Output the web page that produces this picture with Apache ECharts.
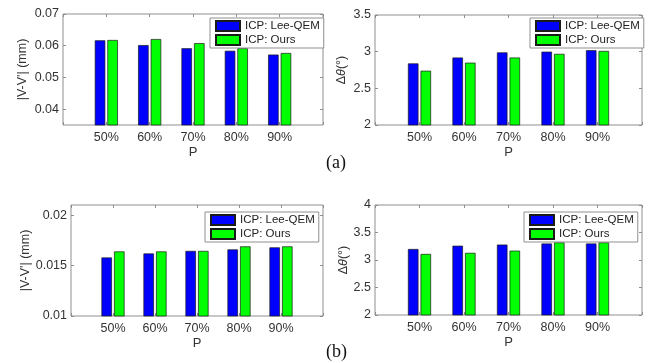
<!DOCTYPE html>
<html><head><meta charset="utf-8">
<script src="https://cdn.jsdelivr.net/npm/echarts@6/dist/echarts.min.js"></script>
<style>html,body{margin:0;padding:0;background:#fff}#c{width:658px;height:363px}</style>
</head><body><div id="c"></div>
<script>
// ---- data ----
const categories = ['50%', '60%', '70%', '80%', '90%'];
const seriesNames = ['ICP: Lee-QEM', 'ICP: Ours'];
const a1Lee  = [0.0617, 0.0602, 0.0592, 0.0584, 0.0572];
const a1Ours = [0.0618, 0.0621, 0.0608, 0.0592, 0.0577];
const a2Lee  = [2.84, 2.92, 2.99, 3.00, 3.02];
const a2Ours = [2.74, 2.85, 2.92, 2.97, 3.01];
const b1Lee  = [0.0158, 0.0162, 0.01645, 0.0166, 0.0168];
const b1Ours = [0.0164, 0.0164, 0.01645, 0.0169, 0.0169];
const b2Lee  = [3.20, 3.26, 3.28, 3.30, 3.30];
const b2Ours = [3.11, 3.13, 3.17, 3.32, 3.32];
const yTicksA1 = [0.04, 0.05, 0.06, 0.07];
const yTicksA2 = [2, 2.5, 3, 3.5];
const yTicksB1 = [0.01, 0.015, 0.02];
const yTicksB2 = [2, 2.5, 3, 3.5, 4];
const yRangeA1 = [0.035, 0.07];
const yRangeA2 = [2, 3.5];
const yRangeB1 = [0.01, 0.021];
const yRangeB2 = [2, 4];
const xName = 'P';
const yNameDist = "|V-V'| (mm)";
const yNameAngle = 'Δ{i|θ}(°)';
const subLabels = ['(a)', '(b)'];

// ---- layout ----
const panels = [
  {lee: a1Lee, ours: a1Ours, ticks: yTicksA1, range: yRangeA1, yName: yNameDist,
   grid: {left: 63, top: 14, width: 260, height: 111}, nameGap: 34, legend: {left: 210, top: 18}},
  {lee: a2Lee, ours: a2Ours, ticks: yTicksA2, range: yRangeA2, yName: yNameAngle,
   grid: {left: 375, top: 15, width: 267, height: 110}, nameGap: 27, legend: {left: 530, top: 18}},
  {lee: b1Lee, ours: b1Ours, ticks: yTicksB1, range: yRangeB1, yName: yNameDist,
   grid: {left: 71, top: 205, width: 252, height: 111}, nameGap: 39, legend: {left: 205, top: 212}},
  {lee: b2Lee, ours: b2Ours, ticks: yTicksB2, range: yRangeB2, yName: yNameAngle,
   grid: {left: 375, top: 205, width: 267, height: 110}, nameGap: 25, legend: {left: 524, top: 212}}
];

const FONT = 'Liberation Sans, Arial, sans-serif';
const LINE = '#8f8f8f';
const TEXT = '#333333';
const COLORS = ['#0000ff', '#00ff00'];
const padCats = [''].concat(categories, ['']);
const pad = arr => ['-'].concat(arr, ['-']);

const grid = [], xAxis = [], yAxis = [], series = [], legend = [];
panels.forEach((p, i) => {
  grid.push(Object.assign({show: true, borderColor: LINE, borderWidth: 1, containLabel: false}, p.grid));
  const tick = {show: true, inside: true, length: 3, lineStyle: {color: LINE}};
  xAxis.push({gridIndex: i, type: 'category', data: padCats, boundaryGap: false, position: 'bottom',
    axisLine: {show: false}, axisTick: Object.assign({interval: 0}, tick),
    axisLabel: {interval: 0, color: TEXT, fontFamily: FONT, fontSize: 12.5, margin: 6},
    name: xName, nameLocation: 'middle', nameGap: 21,
    nameTextStyle: {color: TEXT, fontFamily: FONT, fontSize: 13}});
  xAxis.push({gridIndex: i, type: 'category', data: padCats, boundaryGap: false, position: 'top',
    axisLine: {show: false}, axisTick: Object.assign({interval: 0}, tick), axisLabel: {show: false}});
  yAxis.push({gridIndex: i, type: 'value', min: p.range[0], max: p.range[1], position: 'left',
    splitLine: {show: false}, axisLine: {show: false},
    axisTick: Object.assign({customValues: p.ticks}, tick),
    axisLabel: {customValues: p.ticks, color: TEXT, fontFamily: FONT, fontSize: 12.5, margin: 4},
    name: p.yName, nameLocation: 'middle', nameGap: p.nameGap,
    nameTextStyle: {color: TEXT, fontFamily: FONT, fontSize: 12.5,
      rich: {i: {fontStyle: 'italic', color: TEXT, fontFamily: FONT, fontSize: 12.5}}}});
  yAxis.push({gridIndex: i, type: 'value', min: p.range[0], max: p.range[1], position: 'right',
    splitLine: {show: false}, axisLine: {show: false},
    axisTick: Object.assign({customValues: p.ticks}, tick), axisLabel: {show: false}});
  [p.lee, p.ours].forEach((vals, k) => {
    series.push({type: 'bar', name: seriesNames[k], xAxisIndex: i * 2, yAxisIndex: i * 2,
      data: pad(vals), barWidth: 10.5, barGap: '20%',
      itemStyle: {color: COLORS[k], borderColor: '#1a1a1a', borderWidth: 0.7}, silent: true});
  });
  legend.push(Object.assign({data: seriesNames, orient: 'vertical', icon: 'rect', itemWidth: 24, itemHeight: 10,
    itemGap: 2, padding: [2, 4, 2, 5], borderColor: LINE, borderWidth: 1, backgroundColor: '#fff',
    selectedMode: false, textStyle: {color: '#222', fontFamily: FONT, fontSize: 11.5}}, p.legend));
});

const chart = echarts.init(document.getElementById('c'), null, {renderer: 'canvas'});
chart.setOption({
  animation: false,
  backgroundColor: '#fff',
  title: [
    {text: subLabels[0], left: 326, top: 154, padding: 0,
     textStyle: {fontFamily: 'Liberation Serif, Times New Roman, serif', fontSize: 18, fontWeight: 'normal', color: '#111'}},
    {text: subLabels[1], left: 326, top: 343, padding: 0,
     textStyle: {fontFamily: 'Liberation Serif, Times New Roman, serif', fontSize: 18, fontWeight: 'normal', color: '#111'}}
  ],
  grid, xAxis, yAxis, series, legend
});
</script>
</body></html>
